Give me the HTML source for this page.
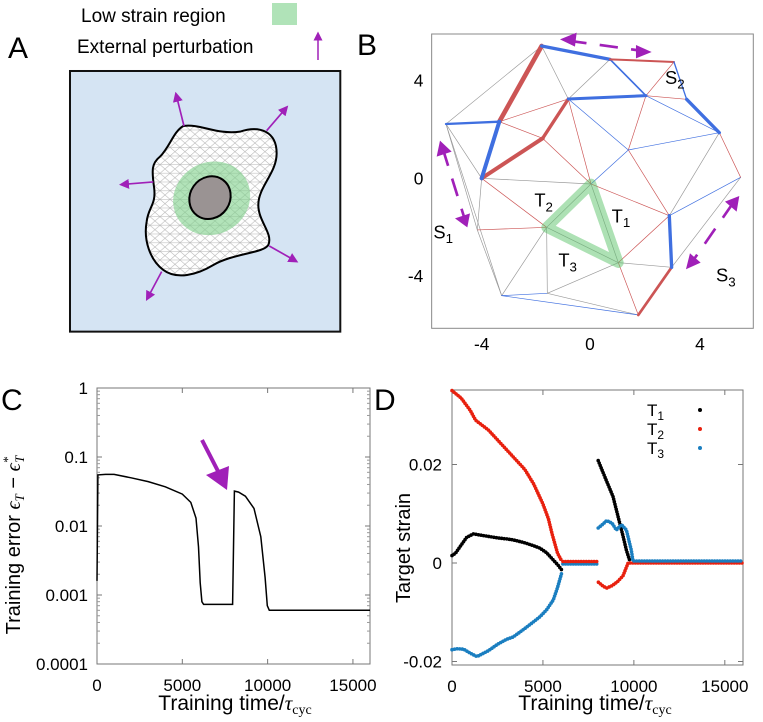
<!DOCTYPE html>
<html><head><meta charset="utf-8">
<style>
html,body{margin:0;padding:0;background:#fff;}
svg{display:block;font-family:"Liberation Sans","DejaVu Sans",sans-serif;}
</style></head>
<body>
<svg id="fig" width="763" height="722" viewBox="0 0 763 722" xmlns="http://www.w3.org/2000/svg">
<defs>
  <marker id="mh" markerWidth="6" markerHeight="6" refX="3" refY="3" orient="auto" markerUnits="strokeWidth"><path d="M0,0 L6,3 L0,6 z" fill="#a020b8"/></marker>
  <clipPath id="cellclip"><path d="M550,378 C600,370 650,405 720,395 C780,375 830,395 830,460 C830,520 775,560 775,615 C775,665 820,700 805,735 C790,760 700,760 640,795 C590,825 530,840 490,810 C450,780 430,720 440,665 C445,620 470,615 462,560 C455,510 455,490 480,470 C510,440 520,395 550,378 Z"/></clipPath>
  <pattern id="mesh" width="60" height="52" patternUnits="userSpaceOnUse">
    <path d="M0,0 L60,0 M0,26 L60,26 M0,52 L60,52 M0,0 L30,26 L60,0 M0,52 L30,26 L60,52 M0,26 L30,52 M60,26 L30,0 M30,0 L0,26 M30,52 L60,26" stroke="#b5b5b5" stroke-width="1.5" fill="none"/>
  </pattern>
</defs>

<text x="8" y="58" font-size="30">A</text>
<text x="357" y="55" font-size="30">B</text>
<text x="1" y="410" font-size="30">C</text>
<text x="374" y="410" font-size="30">D</text>

<g>
  <text x="81" y="22" font-size="19">Low strain region</text>
  <rect x="272" y="3" width="25" height="22" fill="#b0e3b8"/>
  <text x="77" y="53" font-size="19">External perturbation</text>
  <line x1="318" y1="60" x2="318" y2="36" stroke="#a020b8" stroke-width="1.5" marker-end="url(#mh)"/>
  <g transform="scale(0.3333)">
    <rect x="210" y="213" width="811" height="782" fill="#d5e4f3" stroke="#111" stroke-width="6"/>
    <path d="M550,378 C600,370 650,405 720,395 C780,375 830,395 830,460 C830,520 775,560 775,615 C775,665 820,700 805,735 C790,760 700,760 640,795 C590,825 530,840 490,810 C450,780 430,720 440,665 C445,620 470,615 462,560 C455,510 455,490 480,470 C510,440 520,395 550,378 Z" fill="#fff"/>
    <g clip-path="url(#cellclip)">
      <rect x="400" y="350" width="460" height="500" fill="url(#mesh)"/>
      <ellipse cx="635" cy="595" rx="118" ry="108" transform="rotate(-30 635 595)" fill="#7fd08a" opacity="0.6"/>
    </g>
    <path d="M550,378 C600,370 650,405 720,395 C780,375 830,395 830,460 C830,520 775,560 775,615 C775,665 820,700 805,735 C790,760 700,760 640,795 C590,825 530,840 490,810 C450,780 430,720 440,665 C445,620 470,615 462,560 C455,510 455,490 480,470 C510,440 520,395 550,378 Z" fill="none" stroke="#000" stroke-width="6"/>
    <ellipse cx="630" cy="593" rx="60" ry="66" transform="rotate(35 630 593)" fill="#9a9393" stroke="#000" stroke-width="6"/>
    <g stroke="#a020b8" stroke-width="5">
      <line x1="552" y1="378" x2="530" y2="290" marker-end="url(#mh)"/>
      <line x1="800" y1="392" x2="855" y2="328" marker-end="url(#mh)"/>
      <line x1="460" y1="546" x2="372" y2="553" marker-end="url(#mh)"/>
      <line x1="808" y1="738" x2="882" y2="780" marker-end="url(#mh)"/>
      <line x1="485" y1="815" x2="445" y2="890" marker-end="url(#mh)"/>
    </g>
  </g>
</g>

<g id="panelB" transform="translate(390,20) scale(0.3333)">
  <rect x="125" y="42" width="965" height="883" fill="none" stroke="#888" stroke-width="3"/>
  <g id="bEdges"></g>
  <polygon points="603,492 470,622 685,728" fill="none" stroke="#5cc46a" stroke-opacity="0.5" stroke-width="32" stroke-linejoin="round"/>
  <g stroke="#a020b8" stroke-width="8" stroke-dasharray="55,40" fill="none">
    <line x1="535" y1="62" x2="760" y2="93"/>
    <line x1="158" y1="385" x2="225" y2="600"/>
    <line x1="1030" y1="548" x2="905" y2="728"/>
  </g>
  <g fill="#a020b8">
    <path d="M510,58 L560,38 L555,80 Z"/><path d="M785,96 L738,75 L738,115 Z"/>
    <path d="M150,362 L140,410 L185,395 Z"/><path d="M232,622 L195,595 L240,580 Z"/>
    <path d="M1048,528 L1005,545 L1040,575 Z"/><path d="M888,748 L900,700 L932,728 Z"/>
  </g>
  <g font-size="55" fill="#000">
    <text x="825" y="192">S<tspan font-size="40" dy="14">2</tspan></text>
    <text x="130" y="655">S<tspan font-size="40" dy="14">1</tspan></text>
    <text x="978" y="785">S<tspan font-size="40" dy="14">3</tspan></text>
    <text x="433" y="560">T<tspan font-size="40" dy="14">2</tspan></text>
    <text x="665" y="607">T<tspan font-size="40" dy="14">1</tspan></text>
    <text x="505" y="740">T<tspan font-size="40" dy="14">3</tspan></text>
  </g>
  <g font-size="52" text-anchor="middle">
    <text x="275" y="990">-4</text><text x="600" y="990">0</text><text x="930" y="990">4</text>
    <text x="100" y="200" text-anchor="end">4</text><text x="100" y="493" text-anchor="end">0</text><text x="100" y="786" text-anchor="end">-4</text>
  </g>
</g>

<g>
  <g id="cAxes"></g>
  <path id="cLine" fill="none" stroke="#000" stroke-width="1.5"/>
  <line x1="202" y1="440" x2="221" y2="477" stroke="#a020b8" stroke-width="4"/>
  <path d="M227,490 L206,475 L229,466 Z" fill="#a020b8"/>
  <text transform="translate(20,545) rotate(-90)" font-size="20" text-anchor="middle">Training error <tspan font-family="Liberation Serif" font-style="italic">ϵ<tspan font-size="13" dy="4">T</tspan></tspan><tspan dy="-4"> − </tspan><tspan font-family="Liberation Serif" font-style="italic">ϵ<tspan font-size="13" dy="-8">*</tspan><tspan font-size="13" dx="-6" dy="12">T</tspan></tspan></text>
  <text x="235" y="710" font-size="21" text-anchor="middle">Training time/<tspan font-family="Liberation Serif" font-style="italic">τ</tspan><tspan font-family="Liberation Serif" font-size="14" dy="4">cyc</tspan></text>
</g>

<g>
  <g id="dAxes"></g>
  <g id="dMarks"></g>
  <text transform="translate(410,548) rotate(-90)" font-size="20" text-anchor="middle">Target strain</text>
  <text x="595" y="710" font-size="21" text-anchor="middle">Training time/<tspan font-family="Liberation Serif" font-style="italic">τ</tspan><tspan font-family="Liberation Serif" font-size="14" dy="4">cyc</tspan></text>
  <g font-size="17">
    <text x="647" y="416">T<tspan font-size="12" dy="4">1</tspan></text>
    <text x="647" y="435">T<tspan font-size="12" dy="4">2</tspan></text>
    <text x="647" y="454">T<tspan font-size="12" dy="4">3</tspan></text>
    <circle cx="700" cy="410" r="2" fill="#000"/>
    <circle cx="700" cy="429" r="2" fill="#e8200e"/>
    <circle cx="700" cy="448" r="2" fill="#1a7ec0"/>
  </g>
</g>
</svg>

<script>
var NS="http://www.w3.org/2000/svg";
function mk(tag,attrs,parent){var e=document.createElementNS(NS,tag);for(var k in attrs)e.setAttribute(k,attrs[k]);parent.appendChild(e);return e;}

var bNodes=[[455,78],[660,118],[852,126],[890,238],[988,338],[1052,472],[845,742],[745,885],[335,827],[472,820],[262,630],[168,312],[328,305],[275,475],[458,355],[535,237],[768,227],[715,390],[603,492],[470,622],[685,728],[838,587]];
var bEdges=[
[11,0,"#999",2],[0,15,"#999",2],[15,1,"#999",2],[11,13,"#999",2],[11,10,"#999",2],[11,8,"#999",2],[13,18,"#999",2],[13,10,"#999",2],[13,19,"#cc5555",2],[10,19,"#cc5555",2],[10,8,"#999",2],[8,19,"#999",2],[19,9,"#999",2],[9,20,"#999",2],[8,9,"#3f6fe0",2],[9,7,"#999",2],[8,7,"#3f6fe0",2],[20,7,"#cc5555",2],[20,6,"#999",2],[20,21,"#cc5555",2],[6,5,"#999",2],[21,5,"#3f6fe0",2],[4,5,"#cc5555",2],[21,4,"#999",2],[21,17,"#cc5555",2],[17,4,"#3f6fe0",2],[17,16,"#cc5555",2],[16,4,"#3f6fe0",2],[16,3,"#cc5555",2],[16,2,"#cc5555",2],[18,17,"#3f6fe0",2],[18,15,"#cc5555",2],[18,21,"#cc5555",2],[12,14,"#cc5555",2],[14,18,"#cc5555",2],[12,15,"#cc5555",2],[15,17,"#3f6fe0",2],[19,18,"#999",2],[18,20,"#999",2],[19,20,"#999",2],
[0,12,"#cc5555",14],[13,14,"#cc5555",12],[14,15,"#cc5555",10],[6,7,"#cc5555",8],
[0,1,"#3f6fe0",10],[1,16,"#3f6fe0",5],[1,2,"#cc5555",6],[2,3,"#3f6fe0",4],[3,4,"#3f6fe0",10],[15,16,"#3f6fe0",9],[11,12,"#3f6fe0",7],[12,13,"#3f6fe0",12],[21,6,"#3f6fe0",10]
];
var gE=document.getElementById("bEdges");
bEdges.forEach(function(d){
  var a=bNodes[d[0]],b=bNodes[d[1]];
  var l=mk("line",{x1:a[0],y1:a[1],x2:b[0],y2:b[1],stroke:d[2],"stroke-width":d[3],"stroke-linecap":"round"},gE);
  
  
});

var cTimes=[0,50,500,1000,2000,3000,4000,5000,5500,5800,5950,6050,6150,6250,7950,8050,8300,8700,9200,9600,9850,9980,10100,16000];
var cErrors=[0.0016,0.055,0.056,0.056,0.050,0.044,0.037,0.029,0.022,0.013,0.005,0.0015,0.0008,0.00073,0.00073,0.032,0.031,0.027,0.018,0.007,0.0018,0.0007,0.0006,0.0006];
var cYTicks=[1,0.1,0.01,0.001,0.0001];
var cYTickLabels=["1","0.1","0.01","0.001","0.0001"];
var cXTicks=[0,5000,10000,15000];
var cXTickLabels=["0","5000","10000","15000"];
var C={x0:97,x1:370,y0:388,y1:664,tmax:16000};
function cx(t){return C.x0+t/C.tmax*(C.x1-C.x0);}
function cy(v){return C.y0+(0-Math.log10(v))/4*(C.y1-C.y0);}
var cA=document.getElementById("cAxes");
var fr=mk("rect",{x:C.x0,y:C.y0,width:C.x1-C.x0,height:C.y1-C.y0,fill:"none",stroke:"#777","stroke-width":1},cA);


cYTicks.forEach(function(v,i){
  var y=cy(v);
  mk("line",{x1:C.x0,y1:y,x2:C.x0+5,y2:y,stroke:"#777"},cA);
  mk("line",{x1:C.x1,y1:y,x2:C.x1-5,y2:y,stroke:"#777"},cA);
  if(i<cYTicks.length-1){for(var m=2;m<10;m++){var yy=cy(v/10*m);mk("line",{x1:C.x0,y1:yy,x2:C.x0+3,y2:yy,stroke:"#999"},cA);mk("line",{x1:C.x1,y1:yy,x2:C.x1-3,y2:yy,stroke:"#999"},cA);}}
  var t=mk("text",{x:C.x0-9,y:y+6,"font-size":17,"text-anchor":"end"},cA);t.textContent=cYTickLabels[i];
  
  
});
cXTicks.forEach(function(v,i){
  var x=cx(v);
  mk("line",{x1:x,y1:C.y1,x2:x,y2:C.y1-5,stroke:"#777"},cA);
  mk("line",{x1:x,y1:C.y0,x2:x,y2:C.y0+5,stroke:"#777"},cA);
  var t=mk("text",{x:x,y:C.y1+27,"font-size":17,"text-anchor":"middle"},cA);t.textContent=cXTickLabels[i];
  
  
});
var dstr="";
cTimes.forEach(function(t,i){dstr+=(i?"L":"M")+cx(t).toFixed(1)+","+cy(cErrors[i]).toFixed(1);});
document.getElementById("cLine").setAttribute("d",dstr);

var dT1a_t=[0,200,440,800,1170,1500,2000,2500,3000,3370,4000,4500,4840,5200,5570,5800,6030];
var dT1a_v=[0.0015,0.002,0.0033,0.0052,0.0059,0.0057,0.0054,0.0051,0.0049,0.0047,0.0041,0.0035,0.003,0.0021,0.0006,-0.0003,-0.0014];
var dT1b_t=[8040,8400,8850,9130,9400,9590,9770];
var dT1b_v=[0.0208,0.0175,0.0135,0.0094,0.0055,0.0026,0.0005];
var dT2a_t=[0,500,1000,1300,2000,3000,4000,4500,5000,5300,5500,5800,6030];
var dT2a_v=[0.035,0.0335,0.031,0.029,0.027,0.023,0.019,0.016,0.012,0.009,0.006,0.002,0.0004];
var dT2b_t=[6100,8000];
var dT2b_v=[0.0003,0.0003];
var dT2c_t=[8050,8300,8500,8800,9100,9400,9680,9900,16000];
var dT2c_v=[-0.0039,-0.0047,-0.0051,-0.0046,-0.0038,-0.0026,0,0,0];
var dT3a_t=[0,300,640,1000,1370,2000,2500,3000,3370,4000,4500,4840,5200,5570,5800,6030];
var dT3a_v=[-0.0176,-0.0174,-0.0175,-0.0183,-0.019,-0.0178,-0.0165,-0.0155,-0.015,-0.0133,-0.0119,-0.0109,-0.0095,-0.0075,-0.005,-0.002];
var dT3b_t=[6100,8000];
var dT3b_v=[-0.0002,-0.0002];
var dT3c_t=[8040,8300,8500,8800,9040,9320,9590,9860,9950,16000];
var dT3c_v=[0.0071,0.0079,0.0086,0.0081,0.0067,0.0078,0.0067,0.0026,0.0004,0.0004];
var dYTicks=[0.02,0,-0.02];
var dYTickLabels=["0.02","0","-0.02"];
var dXTicks=[0,5000,10000,15000];
var dXTickLabels=["0","5000","10000","15000"];
var D={x0:452,x1:743,y0:390,y1:665,tmax:16000,yzero:563,ypx:98.5/0.02};
function dx(t){return D.x0+t/D.tmax*(D.x1-D.x0);}
function dy(v){return D.yzero-v*D.ypx;}
var dA=document.getElementById("dAxes");
var fr2=mk("rect",{x:D.x0,y:D.y0,width:D.x1-D.x0,height:D.y1-D.y0,fill:"none",stroke:"#777","stroke-width":1},dA);


dYTicks.forEach(function(v,i){
  var y=dy(v);
  mk("line",{x1:D.x0,y1:y,x2:D.x0+5,y2:y,stroke:"#777"},dA);
  mk("line",{x1:D.x1,y1:y,x2:D.x1-5,y2:y,stroke:"#777"},dA);
  var t=mk("text",{x:D.x0-10,y:y+6,"font-size":17,"text-anchor":"end"},dA);t.textContent=dYTickLabels[i];
  
  
});
dXTicks.forEach(function(v,i){
  var x=dx(v);
  mk("line",{x1:x,y1:D.y1,x2:x,y2:D.y1-5,stroke:"#777"},dA);
  mk("line",{x1:x,y1:D.y0,x2:x,y2:D.y0+5,stroke:"#777"},dA);
  var t=mk("text",{x:x,y:D.y1+27,"font-size":17,"text-anchor":"middle"},dA);t.textContent=dXTickLabels[i];
  
  
});
var dM=document.getElementById("dMarks");
function series(ts,vs,color,name){
  var s="";ts.forEach(function(t,i){s+=(i?"L":"M")+dx(t).toFixed(1)+","+dy(vs[i]).toFixed(1);});
  var p=mk("path",{d:s,fill:"none",stroke:color,"stroke-width":3.6,"stroke-linecap":"round","stroke-linejoin":"round","stroke-dasharray":"0 2.6"},dM);
  
  
}
series(dT1a_t,dT1a_v,"#000","t1-series-early");
series(dT2a_t,dT2a_v,"#e8200e","t2-series-early");
series(dT3a_t,dT3a_v,"#1a7ec0","t3-series-early");
series(dT3b_t,dT3b_v,"#1a7ec0","t3-series-plateau");
series(dT2b_t,dT2b_v,"#e8200e","t2-series-plateau");
series(dT1b_t,dT1b_v,"#000","t1-series-late");
series(dT2c_t,dT2c_v,"#e8200e","t2-series-late");
series(dT3c_t,dT3c_v,"#1a7ec0","t3-series-late");
</script>
</body></html>
